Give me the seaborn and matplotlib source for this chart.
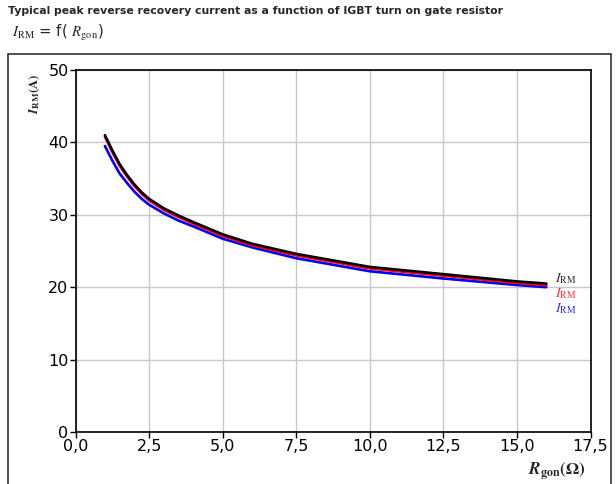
import numpy as np
import pandas as pd
import matplotlib
matplotlib.use("Agg")
import matplotlib.pyplot as plt
import seaborn as sns
from matplotlib.patches import Rectangle

# ---- data ----
rgon = [1.0, 1.25, 1.5, 1.75, 2.0, 2.25, 2.5, 3.0, 3.5, 4.0, 5.0, 6.0, 7.5, 10.0, 12.5, 15.0, 16.0]
irm_black = [41.0, 38.9, 37.0, 35.5, 34.2, 33.1, 32.2, 30.9, 29.9, 29.0, 27.3, 26.0, 24.6, 22.8, 21.8, 20.8, 20.5]
irm_red = [40.8, 38.7, 36.8, 35.3, 34.0, 32.9, 32.0, 30.7, 29.7, 28.8, 27.1, 25.8, 24.4, 22.6, 21.6, 20.6, 20.3]
irm_blue = [39.5, 37.5, 35.7, 34.4, 33.2, 32.2, 31.4, 30.2, 29.2, 28.4, 26.7, 25.5, 24.0, 22.2, 21.2, 20.3, 20.0]
x_ticks = [0.0, 2.5, 5.0, 7.5, 10.0, 12.5, 15.0, 17.5]
x_ticklabels = ["0,0", "2,5", "5,0", "7,5", "10,0", "12,5", "15,0", "17,5"]
y_ticks = [0, 10, 20, 30, 40, 50]

sns.set_style("ticks")
plt.rcParams["font.family"] = ["DejaVu Sans"]
plt.rcParams["mathtext.fontset"] = "stix"

fig = plt.figure(figsize=(6.16, 4.84), dpi=100)
ax = fig.add_axes([75.5 / 616, 52 / 484, 515 / 616, 362 / 484])

df_b = pd.DataFrame({"x": rgon, "y": irm_blue})
df_r = pd.DataFrame({"x": rgon, "y": irm_red})
df_k = pd.DataFrame({"x": rgon, "y": irm_black})
sns.lineplot(data=df_b, x="x", y="y", ax=ax, color="#0000ff", lw=1.9, zorder=3)
sns.lineplot(data=df_r, x="x", y="y", ax=ax, color="#ff0000", lw=2.0, zorder=4)
sns.lineplot(data=df_k, x="x", y="y", ax=ax, color="#000000", lw=1.9, zorder=5)

ax.set_xlim(0, 17.5)
ax.set_ylim(0, 50)
ax.set_xticks(x_ticks)
ax.set_xticklabels(x_ticklabels)
ax.set_yticks(y_ticks)
ax.tick_params(labelsize=11.5, length=4, width=1, direction="out", pad=1, colors="black")
ax.grid(True, color="#c8c8c8", lw=1)
ax.set_axisbelow(True)
for s in ax.spines.values():
    s.set_visible(True)
    s.set_color("black")
    s.set_linewidth(1.2)
ax.set_xlabel("")
ax.set_ylabel("")

# end labels
ax.text(16.3, 21.2, r"$\mathit{I}_{\mathrm{RM}}$", color="#333333", fontsize=10, va="center", ha="left")
ax.text(16.3, 19.1, r"$\mathit{I}_{\mathrm{RM}}$", color="#ff3333", fontsize=10, va="center", ha="left")
ax.text(16.3, 17.0, r"$\mathit{I}_{\mathrm{RM}}$", color="#3333ff", fontsize=10, va="center", ha="left")

# outer frame
fig.patches.append(Rectangle((8 / 616, -0.01), 603 / 616, (484 - 54) / 484 + 0.01,
                             transform=fig.transFigure, fill=False, ec="#333333", lw=1.2))

# titles
fig.text(8 / 616, 1 - 11 / 484, "Typical peak reverse recovery current as a function of IGBT turn on gate resistor",
         fontsize=7.85, fontweight="bold", va="center", ha="left")
fig.text(12 / 616, 1 - 33 / 484, r"$\mathit{I}_{\mathrm{RM}}$ = f( $\mathit{R}_{\mathrm{gon}}$)",
         fontsize=10.7, va="center", ha="left")

# axis labels
fig.text(35 / 616, 1 - 94 / 484, r"$\mathbfit{I}_{\mathbf{RM}}\mathbf{(A)}$", rotation=90,
         fontsize=9.2, va="center", ha="center")
fig.text(585 / 616, 1 - 472 / 484, r"$\mathbfit{R}_{\mathbf{gon}}\mathbf{(\Omega)}$",
         fontsize=12.3, va="center", ha="right")

fig.savefig("out.png", dpi=100)
